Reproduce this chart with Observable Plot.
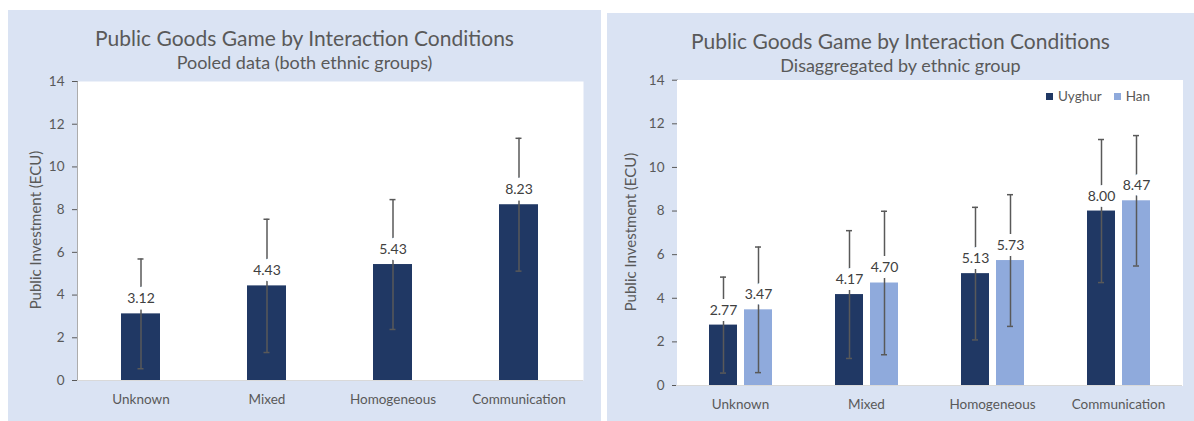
<!DOCTYPE html>
<html>
<head>
<meta charset="utf-8">
<script src="https://cdn.jsdelivr.net/npm/d3@7"></script>
<script src="https://cdn.jsdelivr.net/npm/@observablehq/plot@0.6"></script>
<style>
  html, body { margin: 0; padding: 0; background: #ffffff; }
  body { width: 1194px; height: 421px; overflow: hidden; position: relative; font-family: Lato, "Noto Sans", sans-serif; }
  .panel { position: absolute; background: #dae3f3; overflow: hidden; }
  .title { position: absolute; left: 0; right: 0; text-align: center; color: #595959; white-space: nowrap; }
  .t1 { top: 16px; font-size: 21px; line-height: 24px; }
  .t2 { top: 42px; font-size: 18px; line-height: 20px; }
  .chart { position: absolute; left: 0; top: 55px; }
  .chart svg { overflow: visible; }
  .ylab { position: absolute; font-size: 15px; color: #595959; white-space: nowrap; transform: translate(-50%, -50%) rotate(-90deg); line-height: 16px; }
  .legend { position: absolute; left: 439px; top: 76px; height: 14px; display: flex; align-items: center; font-size: 13.5px; color: #595959; }
  .sw { width: 7px; height: 7px; display: inline-block; margin-right: 5px; }
  .item { display: flex; align-items: center; margin-right: 12px; }
</style>
</head>
<body>
<div class="panel" style="left:8px; top:10px; width:593px; height:411px;">
  <div class="title t1">Public Goods Game by Interaction Conditions</div>
  <div class="title t2">Pooled data (both ethnic groups)</div>
  <div class="chart" id="chart1"></div>
  <div class="ylab" id="ylab1" style="left:27px; top:220px;"></div>
</div>
<div class="panel" style="left:607px; top:13px; width:587px; height:408px;">
  <div class="title t1">Public Goods Game by Interaction Conditions</div>
  <div class="title t2">Disaggregated by ethnic group</div>
  <div class="chart" id="chart2"></div>
  <div class="ylab" id="ylab2" style="left:23px; top:219px;"></div>
  <div class="legend" id="legend"></div>
</div>
<script>
// ---- data ----
const categories = ["Unknown", "Mixed", "Homogeneous", "Communication"];
const pooledMean = [3.12, 4.43, 5.43, 8.23];
const pooledErr  = [2.57, 3.12, 3.04, 3.11];
const groups = ["Uyghur", "Han"];
const uyghurMean = [2.77, 4.17, 5.13, 8.00];
const uyghurErr  = [2.20, 2.93, 3.04, 3.28];
const hanMean    = [3.47, 4.70, 5.73, 8.47];
const hanErr     = [2.88, 3.29, 3.02, 2.99];
const yTicks = [0, 2, 4, 6, 8, 10, 12, 14];
const yLabel = "Public Investment (ECU)";

const colors = {Uyghur: "#203864", Han: "#8faadc"};
const errColor = "#595959";

const pooled = categories.map((c, i) => ({cat: c, v: pooledMean[i], lo: pooledMean[i] - pooledErr[i], hi: pooledMean[i] + pooledErr[i]}));
const split = categories.flatMap((c, i) => [
  {cat: c, grp: "Uyghur", v: uyghurMean[i], lo: uyghurMean[i] - uyghurErr[i], hi: uyghurMean[i] + uyghurErr[i]},
  {cat: c, grp: "Han", v: hanMean[i], lo: hanMean[i] - hanErr[i], hi: hanMean[i] + hanErr[i]}
]);

const baseStyle = {background: "transparent", fontFamily: "Lato, 'Noto Sans', sans-serif", fontSize: "13.5px", color: "#595959", overflow: "visible"};
const yScale = {domain: [0, 14], ticks: yTicks, label: null, tickSize: 5, tickPadding: 8, line: true};

document.getElementById("ylab1").textContent = yLabel;
document.getElementById("ylab2").textContent = yLabel;

// ---- left chart ----
const chart1 = Plot.plot({
  width: 593, height: 356,
  marginLeft: 69, marginRight: 18, marginTop: 16, marginBottom: 41,
  style: baseStyle,
  x: {domain: categories, paddingInner: 0.69, paddingOuter: 0.345, label: null, tickSize: 0, tickPadding: 14, fontSize: 14},
  y: yScale,
  marks: [
    Plot.frame({fill: "white", stroke: null}),
    Plot.ruleY([0], {stroke: "#d9d9d9"}),
    Plot.barY(pooled, {x: "cat", y: "v", fill: colors.Uyghur}),
    Plot.ruleX(pooled, {x: "cat", y1: "lo", y2: "hi", stroke: errColor, strokeWidth: 1.5}),
    Plot.tickY(pooled, {x: "cat", y: "hi", stroke: errColor, strokeWidth: 1.5, insetLeft: 16.5, insetRight: 16.5}),
    Plot.tickY(pooled, {x: "cat", y: "lo", stroke: errColor, strokeWidth: 1.5, insetLeft: 16.5, insetRight: 16.5}),
    Plot.text(pooled, {x: "cat", y: "v", text: d => d.v.toFixed(2), dy: -15, fill: "#404040", stroke: "white", strokeWidth: 13, paintOrder: "stroke", fontSize: 14})
  ]
});
document.getElementById("chart1").appendChild(chart1);

// ---- right chart ----
const chart2 = Plot.plot({
  width: 587, height: 353,
  marginLeft: 69, marginRight: 13, marginTop: 11.7, marginBottom: 36,
  style: baseStyle,
  facet: {data: split, x: "cat"},
  fx: {domain: categories, padding: 0, label: null, axis: "bottom", tickSize: 0, tickPadding: 14, fontSize: 14},
  x: {domain: groups, paddingInner: 0.214, paddingOuter: 0.861, axis: null},
  y: yScale,
  color: {domain: groups, range: groups.map(g => colors[g])},
  marks: [
    Plot.frame({fill: "white", stroke: null, insetLeft: -1, insetRight: -1, shapeRendering: "crispEdges"}),
    Plot.ruleY([0], {stroke: "#d9d9d9", insetLeft: -1, insetRight: -1}),
    Plot.barY(split, {x: "grp", y: "v", fill: "grp"}),
    Plot.ruleX(split, {x: "grp", y1: "lo", y2: "hi", stroke: errColor, strokeWidth: 1.5}),
    Plot.tickY(split, {x: "grp", y: "hi", stroke: errColor, strokeWidth: 1.5, insetLeft: 11, insetRight: 11}),
    Plot.tickY(split, {x: "grp", y: "lo", stroke: errColor, strokeWidth: 1.5, insetLeft: 11, insetRight: 11}),
    Plot.text(split, {x: "grp", y: "v", text: d => d.v.toFixed(2), dy: -15, fill: "#404040", stroke: "white", strokeWidth: 12, paintOrder: "stroke", fontSize: 14})
  ]
});
document.getElementById("chart2").appendChild(chart2);

// ---- legend ----
const legend = document.getElementById("legend");
groups.forEach(g => {
  const item = document.createElement("span");
  item.className = "item";
  const sw = document.createElement("span");
  sw.className = "sw";
  sw.style.background = colors[g];
  item.appendChild(sw);
  item.appendChild(document.createTextNode(g));
  legend.appendChild(item);
});
</script>
</body>
</html>
